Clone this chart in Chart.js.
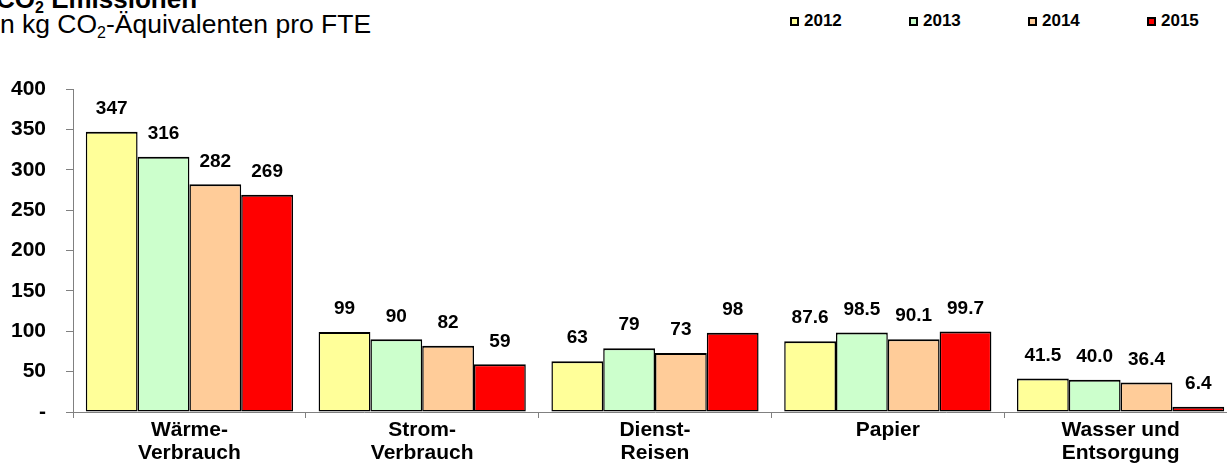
<!DOCTYPE html>
<html>
<head>
<meta charset="utf-8">
<script src="https://cdn.jsdelivr.net/npm/chart.js@4.4.1/dist/chart.umd.min.js"></script>
<style>
  html, body { margin: 0; padding: 0; background: #fff; overflow: hidden; width: 1227px; height: 464px; }
  body { position: relative; font-family: 'Liberation Sans', Arial, sans-serif; color: #000; }
  .title { position: absolute; left: -4px; top: -14px; font-size: 26px; font-weight: bold; line-height: 26px; white-space: nowrap; }
  .subtitle { position: absolute; left: -6px; top: 11px; font-size: 26.5px; line-height: 26px; white-space: nowrap; }
  sub { font-size: 16px; line-height: 0; vertical-align: -5px; }
  .item { position: absolute; top: 12px; font-size: 17px; font-weight: bold; line-height: 18px; padding-left: 14px; white-space: nowrap; }
  .box { position: absolute; left: 0; top: 5px; width: 5px; height: 5px; border: 2px solid #000; }
  #chart { position: absolute; left: 0; top: 0; }
</style>
</head>
<body>
<div class="title">CO<sub>2</sub> Emissionen</div>
<div class="subtitle">in kg CO<sub>2</sub>-Äquivalenten pro FTE</div>
<div id="legend"></div>
<canvas id="chart" width="1237" height="464"></canvas>
<script>
const categories = [['Wärme-', 'Verbrauch'], ['Strom-', 'Verbrauch'], ['Dienst-', 'Reisen'], 'Papier', ['Wasser und', 'Entsorgung']];
const years = ['2012', '2013', '2014', '2015'];
const values2012 = [347, 99, 63, 87.6, 41.5];
const values2013 = [316, 90, 79, 98.5, 40.0];
const values2014 = [282, 82, 73, 90.1, 36.4];
const values2015 = [269, 59, 98, 99.7, 6.4];
const decimals = [0, 0, 0, 1, 1];
const colors = ['#FFFF99', '#CCFFCC', '#FFCC99', '#FF0000'];

const FONT = "'Liberation Sans', Arial, sans-serif";
const series = [values2012, values2013, values2014, values2015];

// legend across the top right
const legend = document.getElementById('legend');
years.forEach((y, i) => {
  const item = document.createElement('div');
  item.className = 'item';
  item.style.left = (790 + i * 119) + 'px';
  item.innerHTML = '<span class="box" style="background:' + colors[i] + '"></span>' + y;
  legend.appendChild(item);
});

// value labels above each bar
const barLabels = {
  id: 'barLabels',
  afterDatasetsDraw(chart) {
    const ctx = chart.ctx;
    ctx.save();
    ctx.font = 'bold 19px ' + FONT;
    ctx.textAlign = 'center';
    ctx.textBaseline = 'middle';
    ctx.fillStyle = '#000';
    chart.data.datasets.forEach((ds, i) => {
      chart.getDatasetMeta(i).data.forEach((bar, j) => {
        ctx.fillText(ds.data[j].toFixed(decimals[j]), bar.x, bar.y - 23);
      });
    });
    ctx.restore();
  }
};

new Chart(document.getElementById('chart').getContext('2d'), {
  type: 'bar',
  data: {
    labels: categories,
    datasets: years.map((y, i) => ({
      label: y,
      data: series[i],
      backgroundColor: colors[i],
      borderColor: '#000',
      borderWidth: { top: 2, bottom: 1.5, left: 1.5, right: 1.5 },
      borderSkipped: false,
      categoryPercentage: 0.89,
      barPercentage: 1
    }))
  },
  options: {
    responsive: false,
    animation: false,
    layout: { padding: { top: 89, left: 0, right: 0, bottom: 0 } },
    plugins: { legend: { display: false }, tooltip: { enabled: false } },
    scales: {
      x: {
        grid: { offset: true, drawOnChartArea: false, tickLength: 6, color: '#808080' },
        border: { color: '#808080' },
        ticks: { color: '#000', font: { family: FONT, size: 21, weight: 'bold', lineHeight: 1.1 }, padding: 1, maxRotation: 0 },
        afterFit: (s) => { s.height = 52; }
      },
      y: {
        min: 0,
        max: 400,
        grid: { drawOnChartArea: false, tickLength: 7, color: '#808080' },
        border: { color: '#808080' },
        ticks: { stepSize: 50, color: '#000', padding: 20, font: { family: FONT, size: 21, weight: 'bold' }, callback: (v) => v === 0 ? '-' : v },
        afterFit: (s) => { s.width = 73; }
      }
    }
  },
  plugins: [barLabels]
});
</script>
</body>
</html>
